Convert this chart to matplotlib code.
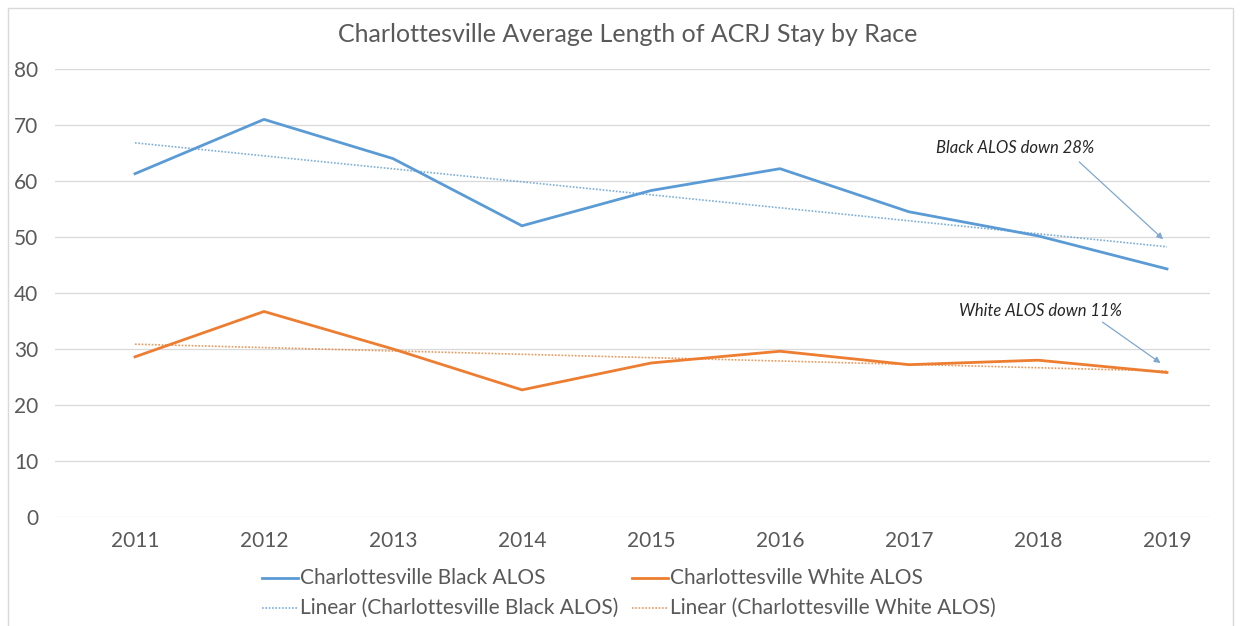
import matplotlib
matplotlib.use("Agg")
import matplotlib.pyplot as plt
import matplotlib.patches as mpatches
import numpy as np

years = [2011, 2012, 2013, 2014, 2015, 2016, 2017, 2018, 2019]
black_alos = [61.3, 71.0, 64.0, 52.0, 58.3, 62.2, 54.5, 50.2, 44.3]
white_alos = [28.6, 36.7, 30.0, 22.7, 27.5, 29.6, 27.2, 28.0, 25.8]
y_ticks = [0, 10, 20, 30, 40, 50, 60, 70, 80]

title = "Charlottesville Average Length of ACRJ Stay by Race"
black_label = "Charlottesville Black ALOS"
white_label = "Charlottesville White ALOS"
black_note = "Black ALOS down 28%"
white_note = "White ALOS down 11%"

BLUE = "#5B9BD5"
ORANGE = "#ED7D31"
TEXT = "#595959"
ARROW = "#7FA7CF"

plt.rcParams["font.family"] = ["Lato", "DejaVu Sans"]

W, H = 1241, 626
fig = plt.figure(figsize=(W / 100, H / 100), dpi=100)

# light chart border
fig.patches.append(mpatches.Rectangle((8 / W, -0.01), (1233 - 8) / W, 1 - 8 / H + 0.01,
                                      transform=fig.transFigure, fill=False,
                                      edgecolor="#D9D9D9", lw=1.0))

ax = fig.add_axes([55 / W, 1 - 517 / H, (1210 - 55) / W, (517 - 69) / H])

x = np.array(years, dtype=float)
fit_b = np.polyfit(x, black_alos, 1)
fit_w = np.polyfit(x, white_alos, 1)

ax.plot(x, np.polyval(fit_b, x), color=BLUE, lw=1.2, ls=(0, (1, 1)), alpha=0.8, zorder=2)
ax.plot(x, np.polyval(fit_w, x), color=ORANGE, lw=1.2, ls=(0, (1, 1)), alpha=0.8, zorder=2)
ax.plot(x, black_alos, color=BLUE, lw=2.0, zorder=3)
ax.plot(x, white_alos, color=ORANGE, lw=2.0, zorder=3)

x_left = 2011 - (135 - 55) / 129.0
x_right = 2019 + (1210 - 1167) / 129.0
ax.set_xlim(x_left, x_right)
ax.set_ylim(0, 80)
ax.set_yticks(y_ticks)
ax.set_xticks(years)
ax.set_xticklabels([str(y) for y in years])
ax.grid(axis="y", color="#D9D9D9", lw=0.9)
ax.set_axisbelow(True)
for s in ax.spines.values():
    s.set_visible(False)
ax.tick_params(length=0, colors=TEXT, labelsize=15)
ax.tick_params(axis="y", pad=12)
ax.tick_params(axis="x", pad=10)

fig.text(628 / W, 1 - 34 / H, title, ha="center", va="center", fontsize=18, color=TEXT)

# notes with arrows pointing at the end of the trend lines
note_style = dict(ha="center", va="center", fontsize=12, style="italic", color="#262626")
arrow_style = dict(arrowstyle="-|>", color=ARROW, lw=0.9, shrinkA=0, shrinkB=0,
                   mutation_scale=9)

ax.text(2017.82, 65.9, black_note, **note_style)
ax.annotate("", xy=(2018.97, 49.6), xytext=(2018.32, 63.4), arrowprops=arrow_style)

ax.text(2018.02, 36.8, white_note, **note_style)
ax.annotate("", xy=(2018.95, 27.5), xytext=(2018.5, 34.8), arrowprops=arrow_style)

# legend: two rows, solid lines then linear trends
def legend_row(y_px, items):
    for x0, color, solid, text in items:
        fig.lines.append(plt.Line2D([x0 / W, (x0 + 36) / W], [1 - y_px / H] * 2,
                                    transform=fig.transFigure, color=color,
                                    lw=2.0 if solid else 1.2,
                                    ls="-" if solid else (0, (1, 1)),
                                    alpha=1.0 if solid else 0.8))
        fig.text((x0 + 38) / W, 1 - y_px / H, text, ha="left", va="center",
                 fontsize=15, color=TEXT)

legend_row(578, [(262, BLUE, True, black_label), (632, ORANGE, True, white_label)])
legend_row(608, [(262, BLUE, False, "Linear (" + black_label + ")"),
                 (632, ORANGE, False, "Linear (" + white_label + ")")])

fig.savefig("out.png", dpi=100, facecolor="white")
